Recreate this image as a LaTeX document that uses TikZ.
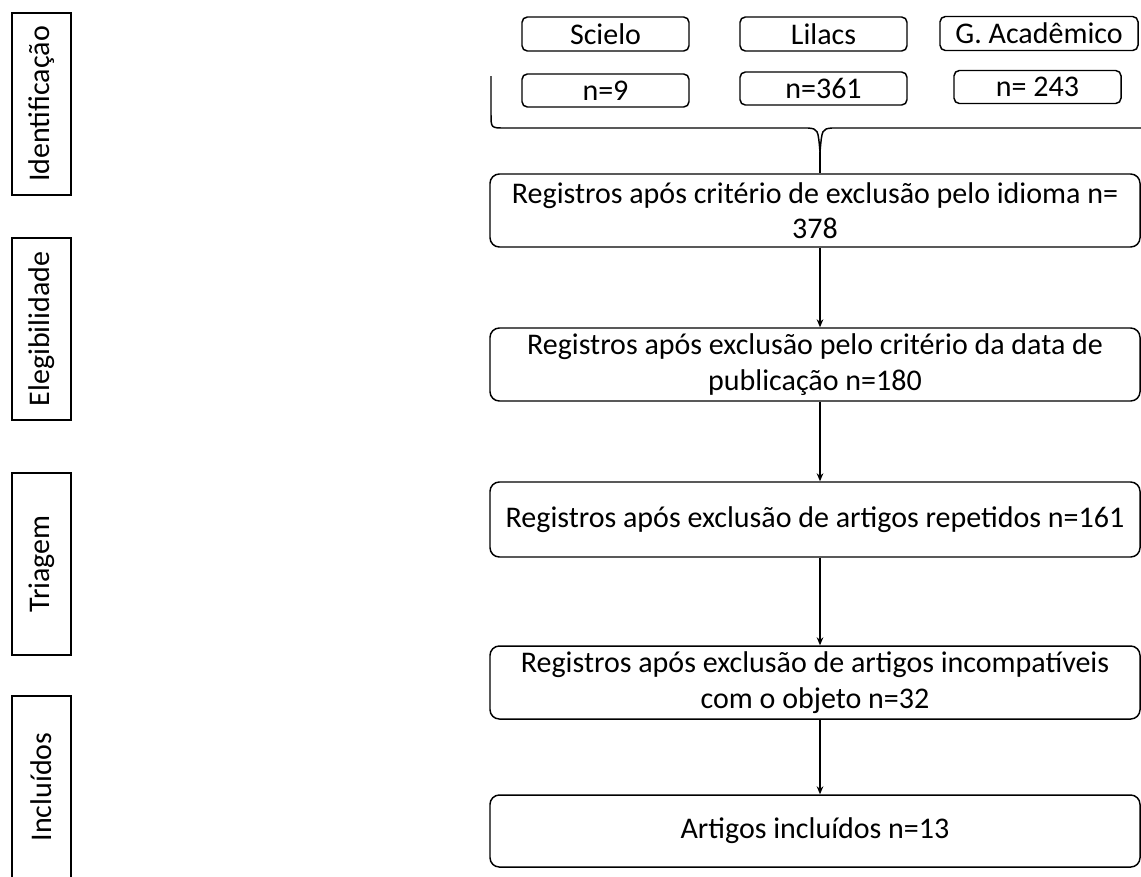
\documentclass[tikz,border=0pt]{standalone}
\usepackage{fontspec}
\setmainfont{Carlito}
\usepackage{tikz}
\usetikzlibrary{arrows.meta,shapes,positioning,calc}
\tikzset{fase/.style={draw, line width=1.1pt, minimum width=44.25pt, minimum height=136.5pt, inner sep=0pt},
         fonte/.style={draw, line width=1.1pt, rounded corners=4pt, minimum width=125.25pt, minimum height=25.5pt, inner sep=0pt},
         etapa/.style={draw, line width=1.1pt, rounded corners=7pt, minimum width=487.5pt, minimum height=54.75pt, align=center, inner sep=0pt}}

\begin{document}
\begin{tikzpicture}[x=0.75pt,y=-0.75pt,font=\fontsize{22.5}{26.5}\selectfont]
\useasboundingbox (0,0) rectangle (1141,876);

% fases
\node[fase] (ident) at (41.5,104) {\rotatebox{90}{Identificação}};
\node[fase] (eleg) at (41.5,329) {\rotatebox{90}{Elegibilidade}};
\node[fase] (triag) at (41.5,564) {\rotatebox{90}{Triagem}};
\node[fase] (incl) at (41.5,787) {\rotatebox{90}{Incluídos}};

% bases
\node[fonte] (scielo) at (605.5,34) {Scielo};
\node[fonte] (lilacs) at (823.5,34) {Lilacs};
\node[fonte, minimum width=148.5pt] (gacad) at (1039,33.5) {G. Acadêmico};
\node[fonte, minimum height=24.75pt] (nscielo) at (605.5,90.5) {n=9};
\node[fonte, minimum height=24.75pt] (nlilacs) at (823.5,88.5) {n=361};
\node[fonte, minimum height=24.75pt] (ngacad) at (1037.5,87) {n= 243};

% chave
\coordinate (ponta) at (820,152);
\draw[line width=1.1pt] (491,76) -- (491,114) .. controls (491,128) .. (505,128) -- (808,128)
      .. controls (818,129) .. (ponta) .. controls (822,129) .. (832,128) -- (1141,128);

% etapas
\node[etapa] (b1) at (815,210.5) {Registros após critério de exclusão pelo idioma n=\\378};
\node[etapa] (b2) at (815,364.5) {Registros após exclusão pelo critério da data de\\publicação n=180};
\node[etapa, minimum height=56.25pt] (b3) at (815,519.5) {Registros após exclusão de artigos repetidos n=161};
\node[etapa] (b4) at (815,682.5) {Registros após exclusão de artigos incompatíveis\\com o objeto n=32};
\node[etapa, minimum height=54pt] (b5) at (815,831) {Artigos incluídos n=13};

\draw[line width=1.1pt] (ponta) -- (b1.north -| ponta);
\foreach \a/\b in {b1/b2,b2/b3,b3/b4,b4/b5}
  \draw[line width=0.9pt, -{Stealth[length=6pt,width=5pt]}] (\a.south -| ponta) -- (\b.north -| ponta);

\end{tikzpicture}
\end{document}
